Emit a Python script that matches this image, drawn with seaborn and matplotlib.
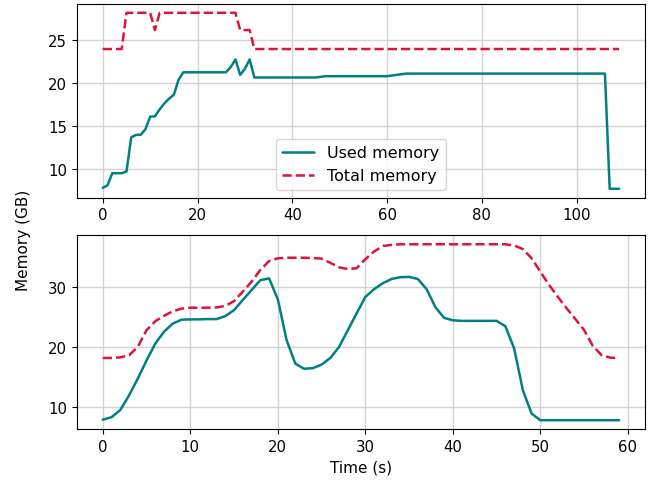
import pandas as pd
import matplotlib.pyplot as plt
import seaborn as sns

# Top panel: long run (vertices)
top_used_t = [0, 1, 2, 4, 5, 6, 7, 8, 9, 10, 11, 12, 13, 14, 15, 16, 17, 26, 27, 28, 29,
              30, 31, 32, 45, 47, 60, 64, 106, 107, 109]
top_used = [7.8, 8.1, 9.5, 9.5, 9.7, 13.65, 13.95, 13.95, 14.6, 16.05, 16.1, 16.9, 17.6,
            18.15, 18.6, 20.35, 21.2, 21.2, 21.8, 22.7, 20.9, 21.6, 22.7, 20.6, 20.6,
            20.75, 20.75, 21.05, 21.05, 7.7, 7.7]
top_total_t = [0, 4, 5, 10, 11, 12, 28, 29, 31, 32, 109]
top_total = [23.9, 23.9, 28.1, 28.1, 26.1, 28.1, 28.1, 26.1, 26.1, 23.9, 23.9]

# Bottom panel: short run, one sample per second
bot_t = list(range(60))
bot_used = [7.9, 8.3, 9.5, 11.95, 14.75, 17.8, 20.6, 22.6, 23.95, 24.6,
            24.65, 24.65, 24.7, 24.7, 25.2, 26.2, 27.9, 29.55, 31.2, 31.5,
            28.0, 21.2, 17.25, 16.4, 16.5, 17.1, 18.2, 20.05, 22.85, 25.65,
            28.4, 29.7, 30.7, 31.4, 31.7, 31.75, 31.4, 29.7, 26.7, 24.9,
            24.5, 24.4, 24.4, 24.4, 24.4, 24.4, 23.5, 19.8, 12.8, 8.9,
            7.8, 7.8, 7.8, 7.8, 7.8, 7.8, 7.8, 7.8, 7.8, 7.8]
bot_total = [18.2, 18.2, 18.3, 18.65, 20.05, 22.85, 24.35, 25.25, 26.0, 26.45,
             26.6, 26.6, 26.6, 26.65, 26.9, 27.7, 29.3, 30.95, 32.9, 34.4,
             34.85, 34.95, 34.95, 34.95, 34.9, 34.8, 34.1, 33.35, 33.05, 33.2,
             34.7, 36.0, 36.9, 37.1, 37.2, 37.2, 37.2, 37.2, 37.2, 37.2,
             37.2, 37.2, 37.2, 37.2, 37.2, 37.2, 37.2, 37.0, 36.4, 34.85,
             32.6, 30.4, 28.4, 26.5, 24.7, 22.85, 20.2, 18.65, 18.25, 18.2]

USED_COLOR = "teal"
TOTAL_COLOR = "crimson"
LW = 1.8

sns.set_style("ticks")
plt.rcParams["font.family"] = ["DejaVu Sans"]
plt.rcParams["xtick.labelsize"] = 10.7
plt.rcParams["ytick.labelsize"] = 10.7
plt.rcParams["text.color"] = "black"
plt.rcParams["axes.labelcolor"] = "black"
plt.rcParams["xtick.color"] = "black"
plt.rcParams["ytick.color"] = "black"

fig, axs = plt.subplots(2, 1, figsize=(6.49, 4.81), dpi=100)
fig.subplots_adjust(left=0.1186, right=0.9938, top=0.9896, bottom=0.106, hspace=0.196)

ax = axs[0]
sns.lineplot(x=top_used_t, y=top_used, ax=ax, color=USED_COLOR, linewidth=LW,
             label="Used memory")
sns.lineplot(x=top_total_t, y=top_total, ax=ax, color=TOTAL_COLOR, linewidth=LW,
             linestyle="--", label="Total memory")
ax.set_yticks([10, 15, 20, 25])
ax.legend(loc="lower center", fontsize=11.5)

ax = axs[1]
sns.lineplot(x=bot_t, y=bot_used, ax=ax, color=USED_COLOR, linewidth=LW)
sns.lineplot(x=bot_t, y=bot_total, ax=ax, color=TOTAL_COLOR, linewidth=LW, linestyle="--")
ax.set_yticks([10, 20, 30])
ax.set_xlabel("Time (s)", fontsize=11)

for a in axs:
    a.grid(True, color="lightgray", linewidth=1)
    a.set_axisbelow(True)
    for s in a.spines.values():
        s.set_color("black")

fig.supylabel("Memory (GB)", x=0.024, fontsize=11)

plt.savefig("out.png", dpi=100)
